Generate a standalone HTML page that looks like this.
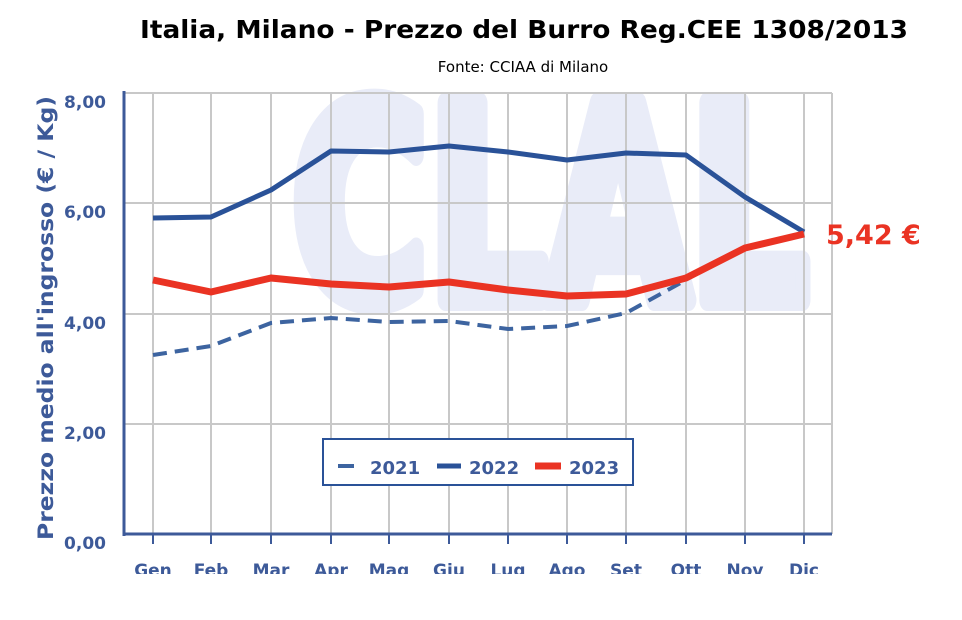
<!DOCTYPE html>
<html><head><style>
body{margin:0;background:#fff;width:962px;height:616px;overflow:hidden;font-family:"DejaVu Sans",Verdana,sans-serif}
</style></head><body>
<svg width="962" height="616" xmlns="http://www.w3.org/2000/svg" font-family="DejaVu Sans, Verdana, sans-serif">
<text x="140" y="38" textLength="768" lengthAdjust="spacingAndGlyphs" font-size="25" font-weight="bold" fill="#000">Italia, Milano - Prezzo del Burro Reg.CEE 1308/2013</text>
<text x="523" y="72" text-anchor="middle" font-size="15" fill="#000">Fonte: CCIAA di Milano</text>
<text x="292" y="300" textLength="516" lengthAdjust="spacingAndGlyphs" font-size="270" font-weight="bold" fill="#e9ecf8" stroke="#e9ecf8" stroke-width="22" stroke-linejoin="round">CLAL</text>
<g stroke="#c8c8c8" stroke-width="2">
<line x1="124" y1="93" x2="832" y2="93"/><line x1="124" y1="203" x2="832" y2="203"/><line x1="124" y1="314" x2="832" y2="314"/><line x1="124" y1="424" x2="832" y2="424"/>
<line x1="153" y1="93" x2="153" y2="534"/><line x1="211" y1="93" x2="211" y2="534"/><line x1="271" y1="93" x2="271" y2="534"/><line x1="331" y1="93" x2="331" y2="534"/><line x1="389" y1="93" x2="389" y2="534"/><line x1="449" y1="93" x2="449" y2="534"/><line x1="508" y1="93" x2="508" y2="534"/><line x1="567" y1="93" x2="567" y2="534"/><line x1="626" y1="93" x2="626" y2="534"/><line x1="686" y1="93" x2="686" y2="534"/><line x1="745" y1="93" x2="745" y2="534"/><line x1="804" y1="93" x2="804" y2="534"/><line x1="832" y1="93" x2="832" y2="534"/>
</g>
<g stroke="#3d5a99" stroke-width="3"><line x1="124" y1="91" x2="124" y2="536"/><line x1="123" y1="534" x2="832" y2="534"/></g>
<g stroke="#3d5a99" stroke-width="2">
<line x1="153" y1="534" x2="153" y2="544"/><line x1="211" y1="534" x2="211" y2="544"/><line x1="271" y1="534" x2="271" y2="544"/><line x1="331" y1="534" x2="331" y2="544"/><line x1="389" y1="534" x2="389" y2="544"/><line x1="449" y1="534" x2="449" y2="544"/><line x1="508" y1="534" x2="508" y2="544"/><line x1="567" y1="534" x2="567" y2="544"/><line x1="626" y1="534" x2="626" y2="544"/><line x1="686" y1="534" x2="686" y2="544"/><line x1="745" y1="534" x2="745" y2="544"/><line x1="804" y1="534" x2="804" y2="544"/>
</g>
<g font-size="17" font-weight="bold" fill="#3d5a99" text-anchor="end">
<text x="106" y="108">8,00</text><text x="106" y="218">6,00</text><text x="106" y="329">4,00</text><text x="106" y="439">2,00</text><text x="106" y="549">0,00</text>
</g>
<g font-size="17" font-weight="bold" fill="#3d5a99" text-anchor="middle">
<text x="153" y="576">Gen</text><text x="211" y="576">Feb</text><text x="271" y="576">Mar</text><text x="331" y="576">Apr</text><text x="389" y="576">Mag</text><text x="449" y="576">Giu</text><text x="508" y="576">Lug</text><text x="567" y="576">Ago</text><text x="626" y="576">Set</text><text x="686" y="576">Ott</text><text x="745" y="576">Nov</text><text x="804" y="576">Dic</text>
</g>
<rect x="0" y="574" width="962" height="42" fill="#fff"/>
<text transform="translate(53,318) rotate(-90)" x="-222" textLength="444" lengthAdjust="spacingAndGlyphs" font-size="21" font-weight="bold" fill="#3d5a99">Prezzo medio all'ingrosso (€ / Kg)</text>
<polyline fill="none" stroke="#3d64a0" stroke-width="4" stroke-dasharray="14,8" points="153,355 211,346 271,323 331,318 389,322 449,321 508,329 567,326 626,313 686,280"/>
<polyline fill="none" stroke="#2a5298" stroke-width="5" stroke-linejoin="round" points="153,218 211,217 271,190 331,151 389,152 449,146 508,152 567,160 626,153 686,155 745,197 804,232"/>
<polyline fill="none" stroke="#ea3323" stroke-width="7" stroke-linejoin="round" points="153,280 211,292 271,278 331,284 389,287 449,282 508,290 567,296 626,294 686,278 745,248 804,234"/>
<text x="826" y="244" font-size="27" font-weight="bold" fill="#ea3323">5,42 €</text>
<rect x="323" y="439" width="310" height="46" fill="#fff" stroke="#2a5298" stroke-width="2"/>
<line x1="338" y1="466" x2="354" y2="466" stroke="#3d64a0" stroke-width="4"/>
<text x="370" y="474" font-size="18" font-weight="bold" fill="#3d5a99">2021</text>
<line x1="437" y1="466" x2="461" y2="466" stroke="#2a5298" stroke-width="5"/>
<text x="469" y="474" font-size="18" font-weight="bold" fill="#3d5a99">2022</text>
<line x1="535" y1="466" x2="561" y2="466" stroke="#ea3323" stroke-width="7"/>
<text x="569" y="474" font-size="18" font-weight="bold" fill="#3d5a99">2023</text>
</svg>
</body></html>
